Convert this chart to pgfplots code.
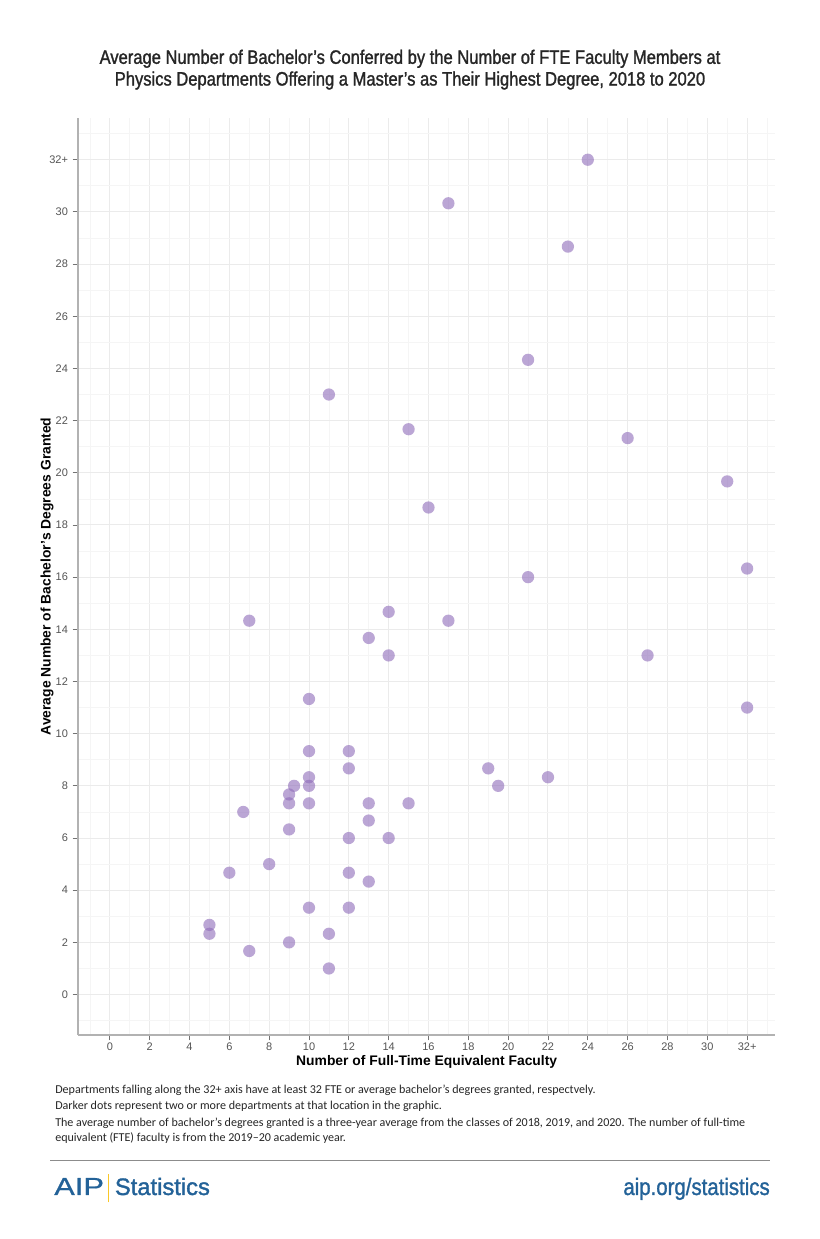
\documentclass[border=0pt]{standalone}
\usepackage{pgfplots}
\pgfplotsset{compat=1.18}
\usepackage{pgfplotstable}
\usepackage{fontspec}
\setmainfont{Liberation Sans}
\newfontfamily\titlefont[FakeStretch=0.85,FakeBold=1.3]{Liberation Sans}
\newfontfamily\aipfont[FakeStretch=1.25,FakeBold=0.6]{Liberation Sans}
\newfontfamily\statfont[FakeBold=1.5]{Liberation Sans}
\newfontfamily\urlfont[FakeStretch=0.86,FakeBold=1.2]{Liberation Sans}
\newfontfamily\calibri{Carlito}
\definecolor{dotc}{RGB}{143,108,185}
\definecolor{gridmaj}{RGB}{235,235,235}
\definecolor{gridmin}{RGB}{245,245,245}
\definecolor{tickc}{RGB}{85,85,85}
\definecolor{aipblue}{RGB}{35,98,152}
\definecolor{aipyellow}{RGB}{250,200,40}
\pgfplotstableread{
x y
24 32
17 30.33
23 28.67
21 24.33
11 23
15 21.67
26 21.33
31 19.67
16 18.67
21 16
32 16.33
7 14.33
14 14.67
17 14.33
13 13.67
14 13
27 13
32 11
10 11.33
10 9.33
12 9.33
12 8.67
19 8.67
10 8.33
22 8.33
9.25 8
10 8
19.5 8
9 7.67
9 7.33
10 7.33
13 7.33
15 7.33
6.7 7
13 6.67
9 6.33
12 6
14 6
8 5
6 4.67
12 4.67
13 4.33
10 3.33
12 3.33
5 2.67
5 2.33
11 2.33
7 1.67
9 2
11 1
}\deptdata
\begin{document}
\begin{tikzpicture}
\path[fill=white] (0,0) rectangle (615pt,929.25pt);
\begin{axis}[
  at={(58.5pt,153pt)}, anchor=south west,
  scale only axis, width=522.75pt, height=687.75pt,
  xmin=-1.6, xmax=33.4, ymin=-1.55, ymax=33.6,
  axis x line*=bottom, axis y line*=left,
  axis line style={draw=black!30, line width=0.8pt, -},
  xtick={0,2,...,32}, ytick={0,2,...,32},
  xticklabels={0,2,4,6,8,10,12,14,16,18,20,22,24,26,28,30,32+},
  yticklabels={0,2,4,6,8,10,12,14,16,18,20,22,24,26,28,30,32+},
  minor xtick={-1,1,...,33}, minor ytick={-1,1,...,33},
  grid=both,
  major grid style={draw=gridmaj, line width=0.75pt},
  minor grid style={draw=gridmin, line width=0.5pt},
  tick align=outside, major tick length=4pt, minor tick length=0pt,
  tick style={draw=black!55, line width=0.7pt},
  tick label style={font=\fontsize{8.25}{10}\selectfont, text=tickc},
  xticklabel style={yshift=1.5pt},
  /pgf/number format/assume math mode=true,
  clip=false,
]
\addplot[only marks, mark=*, color=dotc, mark size=4.6pt,
  mark options={fill=dotc, draw opacity=0, fill opacity=0.6}]
  table[x=x, y=y] {\deptdata};
\end{axis}
% title
\node[align=center, font=\titlefont\fontsize{14.6}{16.3}\selectfont, text=black!85] at (307.5pt,877pt)
 {Average Number of Bachelor’s Conferred by the Number of FTE Faculty Members at\\
  Physics Departments Offering a Master’s as Their Highest Degree, 2018 to 2020};
% axis titles
\node[font=\bfseries\fontsize{10.4}{12}\selectfont] at (320pt,133pt) {Number of Full-Time Equivalent Faculty};
\node[font=\bfseries\fontsize{10.4}{12}\selectfont, rotate=90] at (35.25pt,496.9pt) {Average Number of Bachelor’s Degrees Granted};
% footnotes
\begin{scope}[every node/.style={anchor=base west, inner sep=0pt, font=\calibri\fontsize{9.05}{10}\selectfont, text=black!85}]
\node at (41.25pt,109pt) {Departments falling along the 32+ axis have at least 32 FTE or average bachelor’s degrees granted, respectvely.};
\node at (41.25pt,97pt) {Darker dots represent two or more departments at that location in the graphic.};
\node at (41.25pt,84.3pt) {The average number of bachelor’s degrees granted is a three-year average from the classes of 2018, 2019, and 2020. The number of full-time};
\node at (41.25pt,73pt) {equivalent (FTE) faculty is from the 2019–20 academic year.};
\end{scope}
\draw[black!45, line width=0.6pt] (37.5pt,59.25pt) -- (577.5pt,59.25pt);
% logo
\node[anchor=base west, inner sep=0pt, font=\aipfont\fontsize{18.5}{20}\selectfont, text=aipblue] at (40.5pt,33pt) {AIP};
\draw[aipyellow, line width=1.1pt] (81.5pt,27.5pt) -- (81.5pt,48.5pt);
\node[anchor=base west, inner sep=0pt, font=\statfont\fontsize{17.8}{20}\selectfont, text=aipblue] at (86pt,33pt) {Statistics};
\node[anchor=base east, inner sep=0pt, font=\urlfont\fontsize{17.8}{20}\selectfont, text=aipblue] at (577.5pt,33pt) {aip.org/statistics};
\end{tikzpicture}
\end{document}
